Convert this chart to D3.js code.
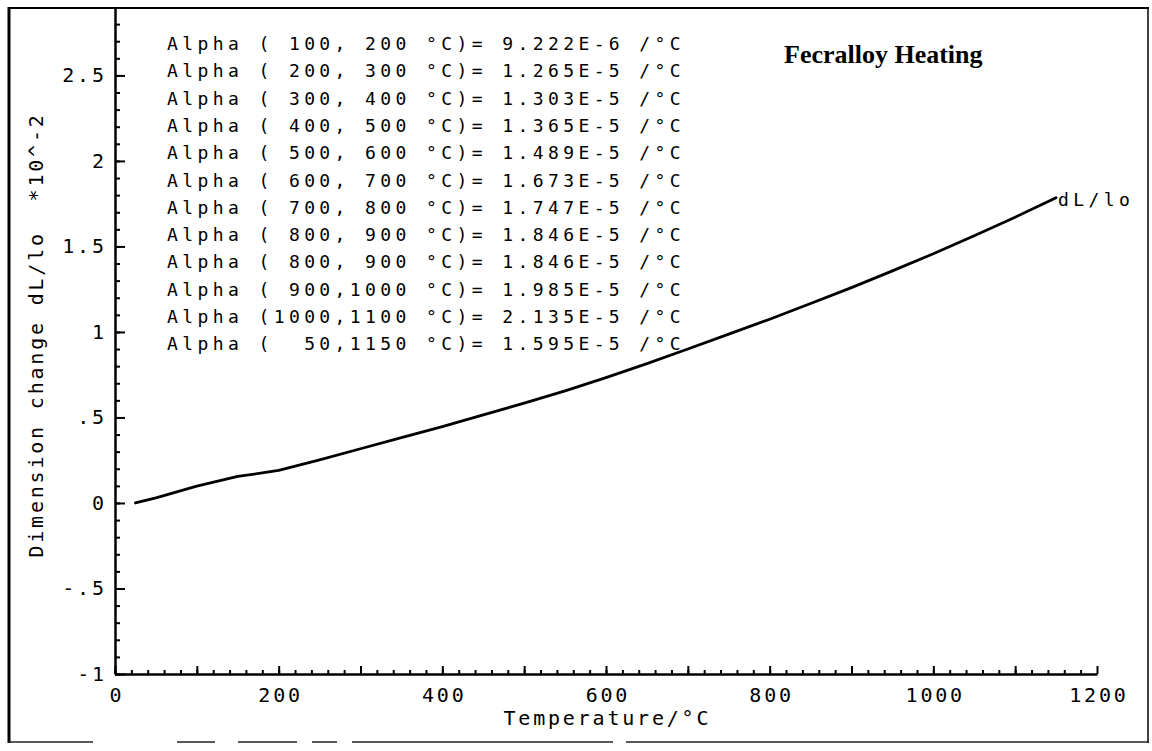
<!DOCTYPE html>
<html>
<head>
<meta charset="utf-8">
<script src="https://cdn.jsdelivr.net/npm/d3@7"></script>
<style>
  html, body { margin: 0; padding: 0; background: #fff; }
  svg { display: block; }
  .plotter { font-family: "DejaVu Sans Mono", monospace; fill: #000; white-space: pre; }
</style>
</head>
<body>
<svg id="chart" width="1152" height="751"></svg>
<script>
// Fecralloy heating run: relative length change dL/lo (in units of 1e-2) vs temperature
const temperature = [25, 50, 100, 150, 200, 250, 300, 350, 400, 450, 500, 550,
                     600, 650, 700, 750, 800, 850, 900, 950, 1000, 1050, 1100, 1150];
const dLlo = [0.000, 0.030, 0.098, 0.155, 0.190, 0.252, 0.317, 0.382, 0.447, 0.515, 0.584, 0.655,
              0.733, 0.815, 0.900, 0.987, 1.074, 1.166, 1.259, 1.357, 1.457, 1.563, 1.671, 1.785];

// Mean expansion coefficients printed on the plot
const alphaLow   = [100, 200, 300, 400, 500, 600, 700, 800, 800, 900, 1000, 50];
const alphaHigh  = [200, 300, 400, 500, 600, 700, 800, 900, 900, 1000, 1100, 1150];
const alphaValue = ["9.222E-6", "1.265E-5", "1.303E-5", "1.365E-5", "1.489E-5", "1.673E-5",
                    "1.747E-5", "1.846E-5", "1.846E-5", "1.985E-5", "2.135E-5", "1.595E-5"];

// Axis ticks
const yMajorTicks  = [-1, -0.5, 0, 0.5, 1, 1.5, 2, 2.5];
const yMajorLabels = ["-1", "-.5", "0", ".5", "1", "1.5", "2", "2.5"];
const yMinorTicks  = d3.range(-10, 29).map(i => i / 10);
const xMajorTicks  = d3.range(0, 1201, 100);
const xLabelTicks  = [0, 200, 400, 600, 800, 1000, 1200];
const xMinorTicks  = d3.range(0, 1181, 20);

const svg = d3.select("#chart");

const x = d3.scaleLinear().domain([0, 1200]).range([115, 1097]);
const y = d3.scaleLinear().domain([-1, 2.9]).range([674, 7]);

// Page frame
const frame = svg.append("g").attr("fill", "none");
frame.append("line").attr("x1", 9).attr("x2", 9).attr("y1", 7).attr("y2", 743)
  .attr("stroke", "#000").attr("stroke-width", 3);
frame.append("line").attr("x1", 8).attr("x2", 1149).attr("y1", 8).attr("y2", 8)
  .attr("stroke", "#000").attr("stroke-width", 2);
frame.append("line").attr("x1", 1148).attr("x2", 1148).attr("y1", 7).attr("y2", 743)
  .attr("stroke", "#000").attr("stroke-width", 1.5);
const bottomSegments = [[8, 93], [177, 215], [238, 297], [312, 337], [352, 613], [626, 1149]];
frame.selectAll("line.bottom").data(bottomSegments).join("line")
  .attr("class", "bottom")
  .attr("x1", d => d[0]).attr("x2", d => d[1])
  .attr("y1", 742).attr("y2", 742)
  .attr("stroke", "#222").attr("stroke-width", 1.5);

const FS = 20, LS = 2.8;          // axis text
const AFS = 18, ALS = 4.4;        // annotation text

// Y axis: minor ticks, then major ticks with labels
svg.append("g").attr("transform", `translate(${x(0)},0)`)
  .call(d3.axisLeft(y).tickValues(yMinorTicks).tickSize(-5).tickFormat(""))
  .call(g => g.select(".domain").remove())
  .call(g => g.selectAll("line").attr("stroke", "#000").attr("stroke-width", 2));

const yAxis = svg.append("g").attr("transform", `translate(${x(0)},0)`)
  .call(d3.axisLeft(y).tickValues(yMajorTicks).tickSize(-10).tickSizeOuter(0).tickPadding(11)
    .tickFormat((d, i) => yMajorLabels[i]));
yAxis.select(".domain").attr("stroke", "#000").attr("stroke-width", 2.5);
yAxis.selectAll("line").attr("stroke", "#000").attr("stroke-width", 2);
yAxis.selectAll("text").attr("class", "plotter")
  .attr("font-size", FS).attr("letter-spacing", LS).attr("dx", LS);

// X axis: minor ticks, then major ticks with labels every 200
svg.append("g").attr("transform", `translate(0,${y(-1)})`)
  .call(d3.axisBottom(x).tickValues(xMinorTicks).tickSize(-4).tickFormat(""))
  .call(g => g.select(".domain").remove())
  .call(g => g.selectAll("line").attr("stroke", "#000").attr("stroke-width", 2));

const xAxis = svg.append("g").attr("transform", `translate(0,${y(-1)})`)
  .call(d3.axisBottom(x).tickValues(xMajorTicks).tickSize(-8).tickSizeOuter(0).tickPadding(14)
    .tickFormat(d => xLabelTicks.includes(d) ? String(d) : ""));
xAxis.select(".domain").attr("stroke", "#000").attr("stroke-width", 2.5);
xAxis.selectAll("line").attr("stroke", "#000").attr("stroke-width", 2);
xAxis.selectAll("text").attr("class", "plotter")
  .attr("font-size", FS).attr("letter-spacing", LS).attr("dx", LS / 2);

// Axis titles
svg.append("text").attr("class", "plotter")
  .attr("x", (x(0) + x(1200)) / 2 + LS / 2).attr("y", 725)
  .attr("text-anchor", "middle").attr("font-size", FS).attr("letter-spacing", LS)
  .text("Temperature/°C");

svg.append("text").attr("class", "plotter")
  .attr("transform", "translate(43,335) rotate(-90)")
  .attr("text-anchor", "middle").attr("font-size", FS).attr("letter-spacing", LS)
  .text("Dimension change dL/lo  *10^-2");

// Expansion curve
const line = d3.line().x((d, i) => x(temperature[i])).y(d => y(d));
svg.append("path").datum(dLlo)
  .attr("d", line)
  .attr("fill", "none").attr("stroke", "#000").attr("stroke-width", 2.8)
  .attr("stroke-linejoin", "round").attr("stroke-linecap", "round");

// Curve label at its end
const last = dLlo.length - 1;
svg.append("text").attr("class", "plotter")
  .attr("x", x(temperature[last]) + 2).attr("y", y(dLlo[last]) + 8)
  .attr("font-size", AFS).attr("letter-spacing", ALS)
  .text("dL/lo");

// Expansion coefficient table
const pad4 = v => String(v).padStart(4, " ");
svg.append("g").selectAll("text").data(alphaValue).join("text")
  .attr("class", "plotter")
  .attr("x", 167)
  .attr("y", (d, i) => 50 + i * 27.3)
  .attr("font-size", AFS).attr("letter-spacing", ALS)
  .text((d, i) => `Alpha (${pad4(alphaLow[i])},${pad4(alphaHigh[i])} °C)= ${d} /°C`);

// Title
svg.append("text")
  .attr("x", 784).attr("y", 63)
  .attr("font-family", "'Liberation Serif', 'Times New Roman', serif")
  .attr("font-weight", "bold").attr("font-size", 26)
  .text("Fecralloy Heating");
</script>
</body>
</html>
